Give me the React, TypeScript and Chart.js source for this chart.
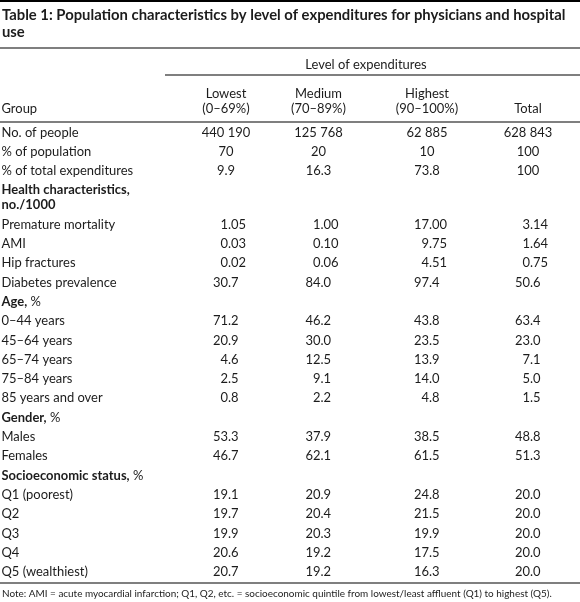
import React, { useEffect, useRef } from 'react';
import { Chart, registerables } from 'chart.js';

Chart.register(...registerables);

// ---------- data ----------
const titleLines = [
  'Table 1: Population characteristics by level of expenditures for physicians and hospital',
  'use',
];
const spannerLabel = 'Level of expenditures';
const columnHeads: string[][] = [
  ['', 'Group'],
  ['Lowest', '(0–69%)'],
  ['Medium', '(70–89%)'],
  ['Highest', '(90–100%)'],
  ['', 'Total'],
];
const rowLabels = [
  'No. of people',
  '% of population',
  '% of total expenditures',
  'Health characteristics,\nno./1000',
  'Premature mortality',
  'AMI',
  'Hip fractures',
  'Diabetes prevalence',
  'Age, %',
  '0–44 years',
  '45–64 years',
  '65–74 years',
  '75–84 years',
  '85 years and over',
  'Gender, %',
  'Males',
  'Females',
  'Socioeconomic status, %',
  'Q1 (poorest)',
  'Q2',
  'Q3',
  'Q4',
  'Q5 (wealthiest)',
];
const sectionRows = [3, 8, 14, 17];
const lowest = ['440 190', '70', '9.9', '', '1.05', '0.03', '0.02', '30.7', '', '71.2', '20.9', '4.6', '2.5', '0.8', '', '53.3', '46.7', '', '19.1', '19.7', '19.9', '20.6', '20.7'];
const medium = ['125 768', '20', '16.3', '', '1.00', '0.10', '0.06', '84.0', '', '46.2', '30.0', '12.5', '9.1', '2.2', '', '37.9', '62.1', '', '20.9', '20.4', '20.3', '19.2', '19.2'];
const highest = ['62 885', '10', '73.8', '', '17.00', '9.75', '4.51', '97.4', '', '43.8', '23.5', '13.9', '14.0', '4.8', '', '38.5', '61.5', '', '24.8', '21.5', '19.9', '17.5', '16.3'];
const total = ['628 843', '100', '100', '', '3.14', '1.64', '0.75', '50.6', '', '63.4', '23.0', '7.1', '5.0', '1.5', '', '48.8', '51.3', '', '20.0', '20.0', '20.0', '20.0', '20.0'];
const centeredRows = [0, 1, 2];
const note =
  'Note: AMI = acute myocardial infarction; Q1, Q2, etc. = socioeconomic quintile from lowest/least affluent (Q1) to highest (Q5).';

// ---------- layout ----------
const W = 580;
const H = 602;
const FONT = 'Lato, "Open Sans", sans-serif';
const TEXT = '#1c1c1c';
const RULE = '#555555';
const COL_X = [1.5, 226, 318.5, 427, 528];
const SPAN_X0 = 165;
const SPAN_CENTER = 366;
const TITLE_Y = [20, 37];
const SPAN_Y = 68.5;
const HEAD_Y = [97.5, 112.5];
const FIRST_ROW_Y = 136.5;
const ROW_PITCH = 19.3;
const WRAP_GAP = 15;
const RULES = [48, 122, 583];
const SPAN_RULE = 75;
const NOTE_Y = 597;
const DEC_OFFSET = 2;

function rowY(i: number): number {
  let extra = 0;
  for (let k = 0; k < i; k++) {
    const lines = rowLabels[k].split('\n').length;
    extra += (lines - 1) * (WRAP_GAP / ROW_PITCH);
  }
  return FIRST_ROW_Y + ROW_PITCH * (i + extra);
}

function fitSize(ctx: CanvasRenderingContext2D, text: string, weight: string, target: number) {
  ctx.font = `${weight} 100px ${FONT}`;
  const w = ctx.measureText(text).width;
  return (100 * target) / w;
}

const tablePlugin = {
  id: 'tableText',
  beforeDraw(chart: any) {
    const ctx = chart.ctx as CanvasRenderingContext2D;
    ctx.save();
    ctx.fillStyle = '#ffffff';
    ctx.fillRect(0, 0, chart.width, chart.height);
    ctx.restore();
  },
  afterDraw(chart: any) {
    const ctx = chart.ctx as CanvasRenderingContext2D;
    const xs = chart.scales.x;
    const ys = chart.scales.y;
    const px = (v: number) => xs.getPixelForValue(v);
    const py = (v: number) => ys.getPixelForValue(v);

    const bodySize = fitSize(ctx, 'Level of expenditures Premature mortality Diabetes prevalence', '400', 122 + 111 + 116 + 8);
    const titleSize = fitSize(ctx, titleLines[0], '700', 564);
    const noteSize = fitSize(ctx, note, '400', 550);
    const body = `400 ${bodySize}px ${FONT}`;
    const bold = `700 ${bodySize}px ${FONT}`;

    ctx.save();
    ctx.textBaseline = 'alphabetic';

    // rules
    ctx.fillStyle = '#000';
    ctx.fillRect(px(0), py(0), px(W) - px(0), 2);
    ctx.strokeStyle = RULE;
    ctx.lineWidth = 1.4;
    const hline = (y: number, x0: number, x1: number) => {
      ctx.beginPath();
      ctx.moveTo(px(x0), py(y));
      ctx.lineTo(px(x1), py(y));
      ctx.stroke();
    };
    RULES.forEach((y) => hline(y, 0, W));
    hline(SPAN_RULE, SPAN_X0, W);

    ctx.fillStyle = TEXT;
    // title
    ctx.font = `700 ${titleSize}px ${FONT}`;
    ctx.textAlign = 'left';
    titleLines.forEach((t, i) => ctx.fillText(t, px(2), py(TITLE_Y[i])));

    // spanner
    ctx.font = body;
    ctx.textAlign = 'center';
    ctx.fillText(spannerLabel, px(SPAN_CENTER), py(SPAN_Y));

    // column heads
    columnHeads.forEach((head, c) => {
      ctx.textAlign = c === 0 ? 'left' : 'center';
      head.forEach((t, li) => {
        if (t) ctx.fillText(t, px(COL_X[c]), py(HEAD_Y[li]));
      });
    });

    // cells from dataset elements
    chart.data.datasets.forEach((ds: any, c: number) => {
      const meta = chart.getDatasetMeta(c);
      meta.data.forEach((el: any, i: number) => {
        const text: string = ds.cellText[i];
        if (!text) return;
        const x = el.x;
        const y = el.y;
        if (c === 0) {
          ctx.textAlign = 'left';
          if (sectionRows.includes(i)) {
            text.split('\n').forEach((line, li) => {
              const yy = y + li * (py(WRAP_GAP) - py(0));
              const m = line.match(/^(.*?)( %)$/);
              if (m) {
                ctx.font = bold;
                ctx.fillText(m[1], x, yy);
                const w = ctx.measureText(m[1]).width;
                ctx.font = body;
                ctx.fillText(m[2], x + w, yy);
              } else {
                ctx.font = bold;
                ctx.fillText(line, x, yy);
              }
            });
          } else {
            ctx.font = body;
            ctx.fillText(text, x, y);
          }
          return;
        }
        ctx.font = body;
        if (centeredRows.includes(i)) {
          ctx.textAlign = 'center';
          ctx.fillText(text, x, y);
        } else {
          const intPart = text.split('.')[0];
          const iw = ctx.measureText(intPart).width;
          ctx.textAlign = 'left';
          ctx.fillText(text, x + DEC_OFFSET - iw, y);
        }
      });
    });

    // note
    ctx.font = `400 ${noteSize}px ${FONT}`;
    ctx.textAlign = 'left';
    ctx.fillText(note, px(2), py(NOTE_Y));
    ctx.restore();
  },
};

export default function App() {
  const ref = useRef<HTMLCanvasElement | null>(null);
  useEffect(() => {
    document.body.style.margin = '0';
    const canvas = ref.current;
    if (!canvas) return;
    const columns = [rowLabels, lowest, medium, highest, total];
    const chart = new Chart(canvas, {
      type: 'scatter',
      data: {
        datasets: columns.map((col, c) => ({
          label: c === 0 ? 'Group' : columnHeads[c].join(' ').trim(),
          data: col.map((_, i) => ({ x: COL_X[c], y: rowY(i) })),
          cellText: col,
          pointRadius: 0,
          pointHoverRadius: 0,
          showLine: false,
        })) as any,
      },
      options: {
        responsive: false,
        animation: false,
        devicePixelRatio: 1,
        layout: { padding: 0, autoPadding: false } as any,
        events: [],
        plugins: { legend: { display: false }, tooltip: { enabled: false } },
        scales: {
          x: { type: 'linear', min: 0, max: W, display: false },
          y: { type: 'linear', min: 0, max: H, reverse: true, display: false },
        },
      },
      plugins: [tablePlugin],
    });
    return () => chart.destroy();
  }, []);
  return (
    <div style={{ width: W, height: H }}>
      <canvas ref={ref} width={W} height={H} style={{ display: 'block' }} />
    </div>
  );
}
